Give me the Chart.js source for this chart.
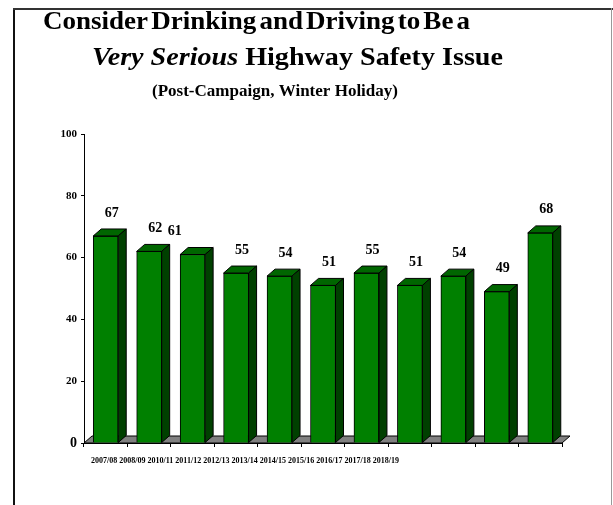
<!DOCTYPE html>
<html>
<head>
<meta charset="utf-8">
<script src="https://cdn.jsdelivr.net/npm/chart.js@4"></script>
<style>
    body { margin: 0; background: #fff; }
</style>
</head>
<body>
<canvas id="chart" width="613" height="505"></canvas>
<script>
// 데이터
const seasons = ['2007/08', '2008/09', '2010/11', '2011/12', '2012/13', '2013/14', '2014/15', '2015/16', '2016/17', '2017/18', '2018/19'];
const verySerious = [67, 62, 61, 55, 54, 51, 55, 51, 54, 49, 68];
const yTicks = [0, 20, 40, 60, 80, 100];

const SERIF = '"Liberation Serif", "DejaVu Serif", serif';
const DX = 8, DY = 7;

// 글자를 폭에 맞춰 그리기
function fitText(c, text, font, x, y, width) {
    c.font = font;
    let w = c.measureText(text).width;
    c.save();
    c.translate(x, y);
    c.scale(width / w, 1);
    c.fillText(text, 0, 0);
    c.restore();
}

// 단어 사이를 좁게 그리기
function tightText(c, words, font, x, y, width, gap) {
    c.font = font;
    let total = 0;
    words.forEach(w => total += c.measureText(w).width);
    total += gap * (words.length - 1);
    let sx = width / total;
    c.save();
    c.translate(x, y);
    c.scale(sx, 1);
    let pos = 0;
    words.forEach(function(w) {
        c.fillText(w, pos, 0);
        pos += c.measureText(w).width + gap;
    });
    c.restore();
}

const framePlugin = {
    id: 'frame',
    beforeDraw(chart) {
        const c = chart.ctx;
        c.save();
        c.fillStyle = '#fff';
        c.fillRect(0, 0, chart.width, chart.height);
        c.fillStyle = '#111';
        c.fillRect(13, 8, 2, 497);
        c.fillStyle = '#333';
        c.fillRect(13, 8, 600, 2);
        c.fillStyle = '#999';
        c.fillRect(611, 8, 1, 497);

        // 제목
        c.fillStyle = '#000';
        c.textBaseline = 'alphabetic';
        c.textAlign = 'left';
        tightText(c, 'Consider Drinking and Driving to Be a'.split(' '), 'bold 26px ' + SERIF, 43, 29, 427, 3);

        c.font = 'italic bold 25px ' + SERIF;
        let w1 = c.measureText('Very Serious ').width;
        c.font = 'bold 25px ' + SERIF;
        let w2 = c.measureText('Highway Safety Issue').width;
        let sx = 411 / (w1 + w2);
        c.save();
        c.translate(92, 65);
        c.scale(sx, 1);
        c.font = 'italic bold 25px ' + SERIF;
        c.fillText('Very Serious ', 0, 0);
        c.font = 'bold 25px ' + SERIF;
        c.fillText('Highway Safety Issue', w1, 0);
        c.restore();

        fitText(c, '(Post-Campaign, Winter Holiday)', 'bold 16px ' + SERIF, 152, 96, 246);

        // x축 라벨 (원본처럼 왼쪽에 몰려 있음)
        fitText(c, seasons.join(' '), 'bold 8px ' + SERIF, 91, 463, 308);
        c.restore();
    },
    beforeDatasetsDraw(chart) {
        // 바닥
        const c = chart.ctx;
        const a = chart.chartArea;
        const right = chart.scales.x.right;
        c.save();
        c.beginPath();
        c.moveTo(a.left, a.bottom);
        c.lineTo(a.left + DX, a.bottom - DY);
        c.lineTo(right + DX, a.bottom - DY);
        c.lineTo(right, a.bottom);
        c.closePath();
        c.fillStyle = '#808080';
        c.fill();
        c.strokeStyle = '#000';
        c.lineWidth = 1;
        c.stroke();
        c.restore();
    },
    afterDatasetsDraw(chart, args, opts) {
        const c = chart.ctx;
        const meta = chart.getDatasetMeta(0);
        c.save();
        c.strokeStyle = '#000';
        c.lineWidth = 1;
        meta.data.forEach(function(bar, i) {
            let p = bar.getProps(['x', 'y', 'base', 'width'], true);
            let x0 = p.x - p.width / 2, x1 = p.x + p.width / 2;
            // 윗면
            c.beginPath();
            c.moveTo(x0, p.y);
            c.lineTo(x0 + DX, p.y - DY);
            c.lineTo(x1 + DX, p.y - DY);
            c.lineTo(x1, p.y);
            c.closePath();
            c.fillStyle = '#006600';
            c.fill();
            c.stroke();
            // 옆면
            c.beginPath();
            c.moveTo(x1, p.y);
            c.lineTo(x1 + DX, p.y - DY);
            c.lineTo(x1 + DX, p.base - DY);
            c.lineTo(x1, p.base);
            c.closePath();
            c.fillStyle = '#004000';
            c.fill();
            c.stroke();

            // 값 라벨
            c.fillStyle = '#000';
            c.font = 'bold 14px ' + SERIF;
            c.textAlign = 'center';
            c.textBaseline = 'middle';
            c.fillText(String(verySerious[i]), p.x + 6 + (opts.shift[i] || 0), p.y - 23);
        });
        c.restore();
    }
};

const ctx = document.getElementById('chart').getContext('2d');
const graph = new Chart(ctx, {
    type: 'bar',
    data: {
        labels: seasons,
        datasets: [{
            data: verySerious,
            backgroundColor: '#008000',
            borderColor: '#000',
            borderWidth: 1,
            barThickness: 25,
        }]
    },
    options: {
        responsive: false,
        animation: false,
        layout: {
            padding: { top: 134, right: 51, left: 0, bottom: 0 }
        },
        scales: {
            x: {
                afterFit(scale) { scale.height = 62; },
                grid: {
                    offset: true,
                    drawOnChartArea: false,
                    tickLength: 4,
                    color: '#000',
                },
                border: { color: '#000' },
                ticks: { display: false },
            },
            y: {
                min: 0,
                max: 100,
                afterFit(scale) { scale.width = 84; },
                afterBuildTicks(scale) {
                    scale.ticks = yTicks.map(v => ({ value: v }));
                },
                grid: {
                    drawOnChartArea: false,
                    tickLength: 3,
                    color: '#000',
                },
                border: { color: '#000' },
                ticks: {
                    color: '#000',
                    padding: 4,
                    font: function(c) {
                        return { family: SERIF, weight: 'bold', size: c.tick && c.tick.value === 0 ? 14 : 11 };
                    },
                },
            },
        },
        plugins: {
            legend: { display: false },
            tooltip: { enabled: false },
            frame: { shift: [0, 0, -24] },
        }
    },
    plugins: [framePlugin],
});
</script>
</body>
</html>
